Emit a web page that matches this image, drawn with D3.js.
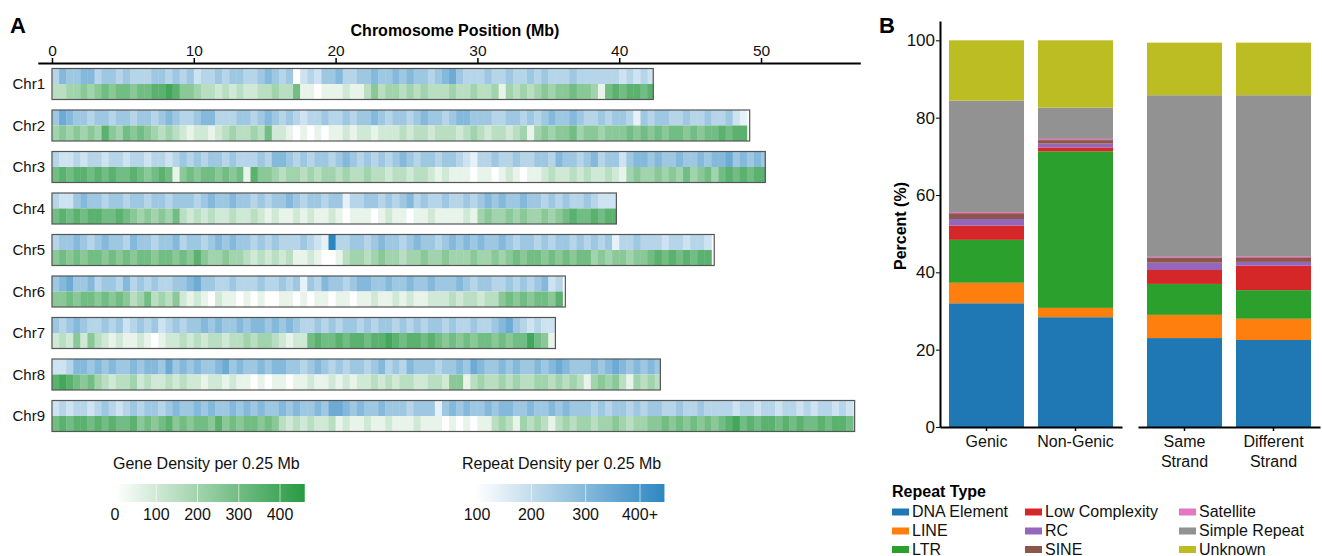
<!DOCTYPE html>
<html>
<head>
<meta charset="utf-8">
<script src="https://cdn.jsdelivr.net/npm/d3@7/dist/d3.min.js"></script>
<style>
  body { margin: 0; background: #fff; }
  svg { font-family: "Liberation Sans", Arial, sans-serif; }
</style>
</head>
<body>
<div id="chart"></div>
<script>
// Panel A - chromosome heatmaps
const chromosomes = ["Chr1", "Chr2", "Chr3", "Chr4", "Chr5", "Chr6", "Chr7", "Chr8", "Chr9"];
const chromLengths = [42.4, 49.2, 50.3, 39.8, 46.7, 36.2, 35.5, 42.9, 56.6]; // Mb
const binSize = 0.5; // Mb per digit below

// one digit per bin, gene count ~ digit * 50 (spaces only for reading)
const geneLevels = [
  "334 454 565665 66778 755 433 232322 33433 6 11011 1211 35344 343433 34334334 1 43434 54556554 1 6767767",
  "4545454 7 546565 4343 212212 343343 6 221 0101011 2122122 23233233 3234323323 414 54556455455 5656 5656656566 7677",
  "67677676766765676 1 565665656 1 7 55 434434344343343 32332332 1211 10110121011 23223232232 1 4544545 464564 6767677",
  "676767766765 45454 6 32323223223 21211212112101 1101211011211112 1 454454544545 67667677",
  "5656566565656656656575 44544 3232323 1121001 34434544344544544 454454 565665656566 45455455 676767677",
  "55656656565 3463435 2121021101 010011010110110112112121122 23233233 565656657",
  "23252532 121121012 232323323 343443 2122 6766767767787677676 5656566565668651",
  "7876 564 32334 2322323 2212212 110101101 121121212 23232332 233255 1 3433434334434343 1 4545 314343",
  "676776767667 56567565665756566565 32323223 121121121112111 0101011 3431434313434 4344543445 565656565 6786767767676676776"
];
// one digit per bin, repeat count ~ 100 + digit * 40
const repeatLevels = [
  "354 455 344343 33443 434 233 434433 45434 0 23244 5334 45445 454434 56433343 3 43343 43334333 3 3323232",
  "4654434 4 344344 3454 334553 334434 5 434 3233433 4344543 44345443 4554443344 343 45445433434 4314 3443343343 3421",
  "32232332332332332 3 434344343 3 3 43 554343443454343 43454344 3443 21334334334 43544345344 2 4554544 544545 5645454",
  "322454434434 43443 4 44345445443 43445434434413 3443434534334334 3 454544544343 43343222",
  "3445434544354434453443 45454 4343433 3432193 34434544345443454 545445 434434344343 43413343 332332332",
  "45644534435 3434334 4564433433 343343414354434554454454454 44543443 343434523",
  "43454334 342343423 434454544 545545 4543 3434344343443434344 3433433456432322",
  "2235 545 45445 4554645 4544564 544545544 345434344 34534354 443445 4 6544545445456544 4 5456 545454",
  "232332343234 34434544545445454544 54544546 654544544434441 4545445 4554454454544 4343443434 433433433 3323323323323233232"
];

const positionTicks = [0, 10, 20, 30, 40, 50];
const geneLegendTicks = [0, 100, 200, 300, 400];
const repeatLegendTicks = [100, 200, 300, 400];
const repeatLegendLabels = ["100", "200", "300", "400+"];

// Panel B - repeat composition
const barCategories = ["Genic", "Non-Genic", "Same Strand", "Different Strand"];
const repeatTypes = ["DNA Element", "LINE", "LTR", "Low Complexity", "RC", "SINE", "Satellite", "Simple Repeat", "Unknown"];
const typeColors = ["#1f77b4", "#ff7f0e", "#2ca02c", "#d62728", "#9467bd", "#8c564b", "#e377c2", "#929292", "#bcbd22"];
const dnaElement = [32.0, 28.4, 23.0, 22.5];
const lineRep = [5.3, 2.4, 6.0, 5.5];
const ltr = [11.1, 40.5, 8.0, 7.4];
const lowComplexity = [3.7, 1.0, 3.6, 6.3];
const rc = [1.7, 1.0, 1.9, 1.0];
const sine = [1.5, 0.9, 1.2, 1.2];
const satellite = [0.3, 0.3, 0.3, 0.3];
const simpleRepeat = [28.8, 8.1, 41.8, 41.6];
const unknown = [15.6, 17.4, 13.6, 13.6];
const percentTicks = [0, 20, 40, 60, 80, 100];

const width = 1322, height = 556;
const svg = d3.select("#chart").append("svg")
    .attr("width", width)
    .attr("height", height);

// ---------- panel A ----------
const x = d3.scaleLinear().domain([-1, 57]).range([37.8, 860.3]);
const y = d3.scaleBand().domain(chromosomes).range([68.5, 431.5]).paddingInner(10.5 / 41.5).paddingOuter(0);

const geneColor = d3.scaleLinear().domain([0, 460]).range(["#ffffff", "#279a42"]).clamp(true);
const repeatColor = d3.scaleLinear().domain([100, 450]).range(["#ffffff", "#2a85c0"]).clamp(true);

svg.append("text")
    .attr("x", 10).attr("y", 33)
    .style("font-size", "22px").style("font-weight", "bold")
    .text("A");

svg.append("text")
    .attr("x", 455).attr("y", 35.5)
    .attr("text-anchor", "middle")
    .style("font-size", "16px").style("font-weight", "bold")
    .text("Chromosome Position (Mb)");

const xAxis = svg.append("g")
    .attr("transform", "translate(0,63)")
    .call(d3.axisTop(x).tickValues(positionTicks).tickSize(5).tickSizeOuter(0).tickPadding(2.5));
xAxis.select(".domain").attr("stroke-width", 2);
xAxis.selectAll(".tick line").attr("stroke-width", 1.5);
xAxis.selectAll("text").style("font-size", "15.5px").attr("fill", "#111");

const half = y.bandwidth() / 2;

chromosomes.forEach((chr, c) => {
    const len = chromLengths[c];
    const g = svg.append("g").attr("transform", `translate(0,${y(chr)})`);
    const genes = geneLevels[c].replace(/\s/g, "").split("").map(d => +d * 50);
    const repeats = repeatLevels[c].replace(/\s/g, "").split("").map(d => 100 + +d * 40);

    const bins = (vals) => vals.map((v, i) => ({ v, start: i * binSize, end: Math.min((i + 1) * binSize, len) }))
        .filter(d => d.start < len);

    g.selectAll(".rep")
        .data(bins(repeats))
        .enter().append("rect")
        .attr("x", d => x(d.start))
        .attr("width", d => x(d.end) - x(d.start) + 0.4)
        .attr("y", 0)
        .attr("height", half)
        .attr("fill", d => repeatColor(d.v));

    g.selectAll(".gene")
        .data(bins(genes))
        .enter().append("rect")
        .attr("x", d => x(d.start))
        .attr("width", d => x(d.end) - x(d.start) + 0.4)
        .attr("y", half)
        .attr("height", half)
        .attr("fill", d => geneColor(d.v));

    g.append("rect")
        .attr("x", x(0))
        .attr("width", x(len) - x(0))
        .attr("height", y.bandwidth())
        .attr("fill", "none")
        .attr("stroke", "#555")
        .attr("stroke-width", 1.2);

    g.append("text")
        .attr("x", 45)
        .attr("y", y.bandwidth() / 2 + 5)
        .attr("text-anchor", "end")
        .style("font-size", "15px")
        .attr("fill", "#111")
        .text(chr);
});

// colour legends
const defs = svg.append("defs");
function legend(id, title, titleX, scale, color, lo, hi, ticks, labels, lineTicks) {
    const grad = defs.append("linearGradient").attr("id", id);
    d3.range(0, 1.01, 0.1).forEach(t => {
        grad.append("stop")
            .attr("offset", t)
            .attr("stop-color", color(lo + t * (hi - lo)));
    });
    svg.append("text")
        .attr("x", titleX).attr("y", 469)
        .style("font-size", "16px").attr("fill", "#111")
        .text(title);
    svg.append("rect")
        .attr("x", scale(lo)).attr("y", 484)
        .attr("width", scale(hi) - scale(lo)).attr("height", 18)
        .attr("fill", `url(#${id})`);
    svg.selectAll(`.${id}-line`)
        .data(lineTicks)
        .enter().append("line")
        .attr("x1", d => scale(d)).attr("x2", d => scale(d))
        .attr("y1", 484).attr("y2", 502)
        .attr("stroke", "#fff").attr("stroke-opacity", 0.6);
    svg.selectAll(`.${id}-lab`)
        .data(ticks)
        .enter().append("text")
        .attr("x", d => scale(d)).attr("y", 520)
        .attr("text-anchor", "middle")
        .style("font-size", "16px").attr("fill", "#111")
        .text((d, i) => labels[i]);
}

const geneLegendX = d3.scaleLinear().domain([0, 400]).range([115, 280]);
legend("geneGrad", "Gene Density per 0.25 Mb", 113, geneLegendX, geneColor, 0, 460,
    geneLegendTicks, geneLegendTicks.map(String), geneLegendTicks.slice(1));

const repeatLegendX = d3.scaleLinear().domain([100, 400]).range([477, 640]);
legend("repGrad", "Repeat Density per 0.25 Mb", 462, repeatLegendX, repeatColor, 96, 445,
    repeatLegendTicks, repeatLegendLabels, repeatLegendTicks.slice(1));

// ---------- panel B ----------
svg.append("text")
    .attr("x", 879).attr("y", 33)
    .style("font-size", "22px").style("font-weight", "bold")
    .text("B");

const yB = d3.scaleLinear().domain([0, 105]).range([427, 21]);

const series = [dnaElement, lineRep, ltr, lowComplexity, rc, sine, satellite, simpleRepeat, unknown];
const table = barCategories.map((cat, i) => {
    const row = { category: cat };
    repeatTypes.forEach((t, k) => { row[t] = series[k][i]; });
    return row;
});
const stacked = d3.stack().keys(repeatTypes)(table);

const groupScales = [
    d3.scaleBand().domain(barCategories.slice(0, 2)).range([940, 1122]).paddingInner(0.157).paddingOuter(0.101),
    d3.scaleBand().domain(barCategories.slice(2)).range([1138, 1320]).paddingInner(0.157).paddingOuter(0.101)
];
const xB = cat => (barCategories.indexOf(cat) < 2 ? groupScales[0] : groupScales[1])(cat);
const bw = groupScales[0].bandwidth();

svg.append("g")
    .selectAll("g")
    .data(stacked)
    .enter().append("g")
    .attr("fill", (d, k) => typeColors[k])
    .selectAll("rect")
    .data(d => d)
    .enter().append("rect")
    .attr("x", d => xB(d.data.category))
    .attr("width", bw)
    .attr("y", d => yB(d[1]))
    .attr("height", d => yB(d[0]) - yB(d[1]));

const yAxisB = svg.append("g")
    .attr("transform", "translate(940,0)")
    .call(d3.axisLeft(yB).tickValues(percentTicks).tickSize(4).tickSizeOuter(0).tickPadding(1));
yAxisB.select(".domain").attr("stroke-width", 2);
yAxisB.selectAll("text").style("font-size", "17px").attr("fill", "#111");

groupScales.forEach(s => {
    const ax = svg.append("g")
        .attr("transform", "translate(0,427)")
        .call(d3.axisBottom(s).tickSize(4).tickSizeOuter(0).tickFormat(""));
    ax.select(".domain").attr("stroke-width", 2);
    ax.selectAll(".tick line").attr("stroke-width", 1.5);
});

svg.append("g")
    .selectAll("text")
    .data(barCategories)
    .enter().append("text")
    .attr("x", d => xB(d) + bw / 2)
    .attr("y", 446.5)
    .attr("text-anchor", "middle")
    .style("font-size", "16px").attr("fill", "#111")
    .each(function(d) {
        const words = d.includes("Strand") ? d.split(" ") : [d];
        d3.select(this).selectAll("tspan")
            .data(words)
            .enter().append("tspan")
            .attr("x", xB(d) + bw / 2)
            .attr("dy", (w, i) => i === 0 ? 0 : 20)
            .text(w => w);
    });

svg.append("text")
    .attr("transform", "translate(906,226) rotate(-90)")
    .attr("text-anchor", "middle")
    .style("font-size", "16px").style("font-weight", "bold")
    .text("Percent (%)");

// legend B
svg.append("text")
    .attr("x", 892).attr("y", 497)
    .style("font-size", "16px").style("font-weight", "bold")
    .text("Repeat Type");

const colX = [892, 1025, 1179];
const rowY = [517, 536, 554.5];
const legendB = svg.append("g")
    .selectAll("g")
    .data(repeatTypes)
    .enter().append("g")
    .attr("transform", (d, i) => `translate(${colX[Math.floor(i / 3)]},${rowY[i % 3]})`);
legendB.append("rect")
    .attr("x", 0).attr("y", -8.5)
    .attr("width", 17).attr("height", 7)
    .attr("fill", (d, i) => typeColors[i]);
legendB.append("text")
    .attr("x", 20)
    .style("font-size", "16px").attr("fill", "#111")
    .text(d => d);
</script>
</body>
</html>
